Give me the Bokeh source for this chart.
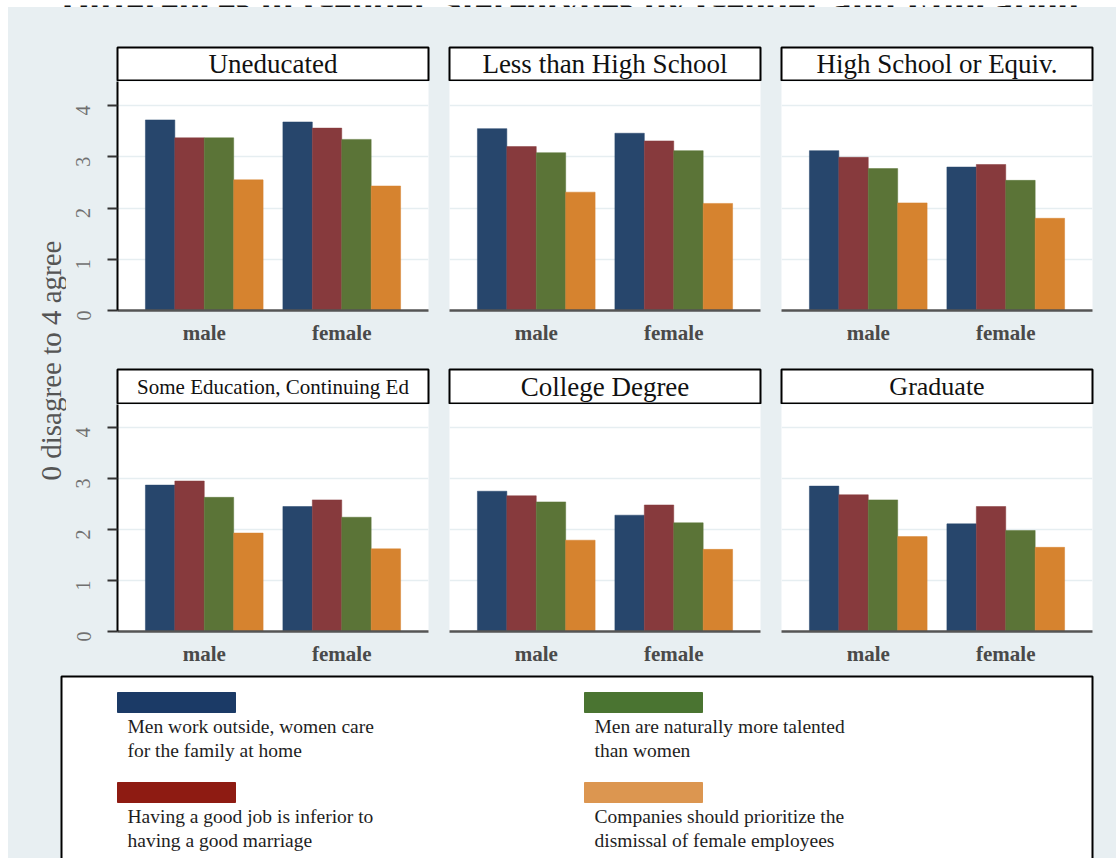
import math
from bokeh.plotting import figure
from bokeh.models import ColumnDataSource, Range1d, FactorRange, FixedTicker, Grid, Spacer, Label
from bokeh.layouts import row, column
from bokeh.transform import dodge
from bokeh.embed import file_html
from bokeh.resources import INLINE

# ---------------- data ----------------
title_text = "Differences in Gender Stereotypes by Gender and Education"
education = ["Uneducated", "Less than High School", "High School or Equiv.",
             "Some Education, Continuing Ed", "College Degree", "Graduate"]
genders = ["male", "female"]
y_label = "0 disagree to 4 agree"
y_ticks = [0, 1, 2, 3, 4]

legend_lines = [
    ["Men work outside, women care", "for the family at home"],
    ["Having a good job is inferior to", "having a good marriage"],
    ["Men are naturally more talented", "than women"],
    ["Companies should prioritize the", "dismissal of female employees"],
]

# values per education panel: [male, female]
work_outside = [[3.72, 3.68], [3.55, 3.46], [3.12, 2.80], [2.87, 2.45], [2.75, 2.28], [2.85, 2.11]]
good_job_inferior = [[3.37, 3.56], [3.20, 3.31], [2.99, 2.85], [2.95, 2.58], [2.66, 2.48], [2.68, 2.45]]
naturally_talented = [[3.37, 3.34], [3.08, 3.12], [2.77, 2.54], [2.63, 2.24], [2.54, 2.13], [2.58, 1.98]]
prioritize_dismissal = [[2.55, 2.43], [2.31, 2.09], [2.10, 1.80], [1.93, 1.62], [1.79, 1.61], [1.86, 1.65]]
series = [work_outside, good_job_inferior, naturally_talented, prioritize_dismissal]

# ---------------- styles ----------------
BG = "#e8eff2"
bar_colors = ["#27466c", "#873a3d", "#5b7437", "#d6832f"]
legend_colors = ["#1b3a66", "#8e1b12", "#4a7431", "#dc9650"]
SERIF = "Liberation Serif"


def base_fig(fw, fh, xr, yr, l, r, t, b, bg, border=BG, **kw):
    f = figure(frame_width=fw, frame_height=fh, x_range=xr, y_range=yr, title=None,
               x_axis_location=kw.pop("x_axis_location", None),
               y_axis_location=kw.pop("y_axis_location", None),
               min_border_left=l, min_border_right=r, min_border_top=t, min_border_bottom=b,
               background_fill_color=bg, border_fill_color=border,
               output_backend="svg", toolbar_location=None, **kw)
    f.grid.visible = False
    return f


# geometry of the panel grid
plot_lr = [(51, 10), (11, 10), (11, 24)]
row_geo = [
    dict(box_top=40, box_h=33, plot_h=229, plot_bottom=42, ymax=4.47, title_size=["27px", "27px", "27px"]),
    dict(box_top=17, box_h=34, plot_h=227, plot_bottom=37, ymax=4.45, title_size=["21px", "27px", "26px"]),
]
bar_w = 0.214


def make_panel(k, r, c):
    g = row_geo[r]
    pl, pr = plot_lr[c]
    box = base_fig(311, g["box_h"], Range1d(0, 1), Range1d(0, 1), pl, pr, g["box_top"], 1, "white",
                   outline_line_color="black", outline_line_width=2)
    box.add_layout(Label(x=0.5, y=0.5, text=education[k], text_align="center", text_baseline="middle",
                         text_font=SERIF, text_font_size=g["title_size"][c], text_color="#111111"))

    p = base_fig(311, g["plot_h"],
                 FactorRange(factors=genders, range_padding=0.131, range_padding_units="absolute"),
                 Range1d(0, g["ymax"]), pl, pr, 0, g["plot_bottom"], "white",
                 x_axis_location="below", y_axis_location="left" if c == 0 else None,
                 outline_line_color=None)
    p.add_layout(Grid(dimension=1, ticker=FixedTicker(ticks=y_ticks),
                      grid_line_color="#e6eef1", grid_line_width=1.5))

    src = ColumnDataSource(dict(gender=genders,
                                s0=series[0][k], s1=series[1][k], s2=series[2][k], s3=series[3][k]))
    for j in range(4):
        p.vbar(x=dodge("gender", (j - 1.5) * bar_w, range=p.x_range), top=f"s{j}", bottom=0,
               width=bar_w, source=src, fill_color=bar_colors[j], line_color=bar_colors[j], line_width=0.5)

    xa = p.xaxis[0]
    xa.axis_line_color = "#555555"
    xa.axis_line_width = 2.5
    xa.major_tick_line_color = None
    xa.major_tick_out = 0
    xa.major_tick_in = 0
    xa.major_label_standoff = 10
    xa.major_label_text_font = SERIF
    xa.major_label_text_font_style = "bold"
    xa.major_label_text_font_size = "21px"
    xa.major_label_text_color = "#4a4a4a"

    if c == 0:
        ya = p.yaxis[0]
        ya.ticker = FixedTicker(ticks=y_ticks)
        ya.major_label_orientation = math.pi / 2
        ya.axis_line_color = "black"
        ya.axis_line_width = 2
        ya.major_tick_out = 10
        ya.major_tick_in = 0
        ya.major_tick_line_color = "#333333"
        ya.major_tick_line_width = 2
        ya.minor_tick_line_color = None
        ya.major_label_standoff = 24
        ya.major_label_text_font = SERIF
        ya.major_label_text_font_size = "20px"
        ya.major_label_text_color = "#707070"
    return column(box, p, spacing=0, styles={"background-color": BG})


panel_rows = []
for r in range(2):
    panel_rows.append(row(*[make_panel(r * 3 + c, r, c) for c in range(3)], spacing=0,
                          styles={"background-color": BG}))
grid_part = column(*panel_rows, spacing=0, styles={"background-color": BG})

# left strip with the shared y-axis title
left = base_fig(58, 661, Range1d(0, 58), Range1d(0, 661), 0, 0, 0, 0, BG, outline_line_color=None)
left.add_layout(Label(x=42, y=308, text=y_label, angle=math.pi / 2, text_align="center",
                      text_baseline="middle", text_font=SERIF, text_font_size="29px", text_color="#555555"))

# legend
leg = base_fig(1108, 190, Range1d(0, 1108), Range1d(0, 190), 0, 0, 0, 0, BG, outline_line_color=None)
leg.quad(left=53, right=1084, top=182, bottom=-20, fill_color="white", line_color="black", line_width=2)
sw_left = [109, 109, 576, 576]
sw_top = [166, 76, 166, 76]
leg.quad(left=sw_left, right=[x + 118 for x in sw_left], top=sw_top, bottom=[t - 20 for t in sw_top],
         fill_color=legend_colors, line_color=legend_colors)
for j in range(4):
    for li, txt in enumerate(legend_lines[j]):
        leg.add_layout(Label(x=sw_left[j] + 10, y=sw_top[j] - 34 - 24 * li, text=txt,
                             text_align="left", text_baseline="middle", text_font=SERIF,
                             text_font_size="19.5px", text_color="#1e1e1e"))

# title strip (cut off at the top, as in the reference)
top = base_fig(1116, 7, Range1d(0, 1116), Range1d(0, 7), 0, 0, 0, 0, "white", border="white",
               outline_line_color=None)
top.add_layout(Label(x=570, y=9, text=title_text, text_align="center", text_baseline="alphabetic",
                     text_font=SERIF, text_font_style="bold", text_font_size="39.5px", text_color="#111111"))

content = column(row(left, grid_part, spacing=0, styles={"background-color": BG}), leg, spacing=0,
                 styles={"background-color": BG})
body = row(Spacer(width=8, height=851), content, spacing=0)
root = column(top, body, spacing=0)

open("out.html", "w").write(file_html(root, INLINE))
